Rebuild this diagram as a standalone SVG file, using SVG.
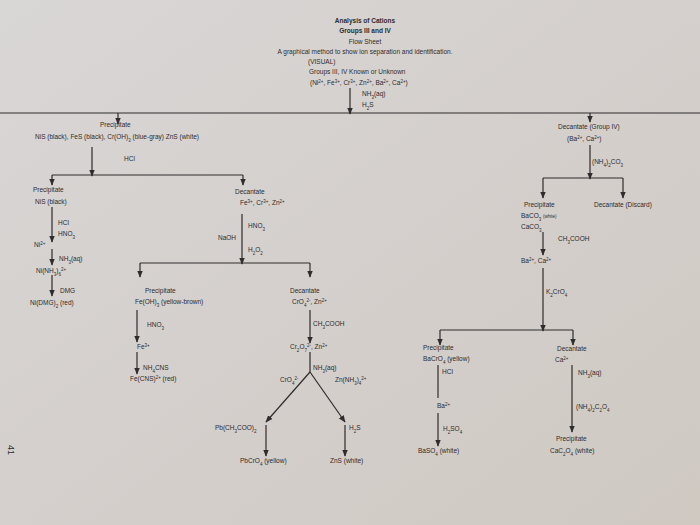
<svg xmlns="http://www.w3.org/2000/svg" width="700" height="525" viewBox="0 0 700 525">
<defs>
<style>
text{font-family:"Liberation Sans",Arial,sans-serif;font-size:6.5px;fill:#2e2c2c}
.b{font-weight:bold}
.sb{baseline-shift:sub;font-size:4.5px}
.sp{baseline-shift:super;font-size:4.5px}
.c{text-anchor:middle}
.l{stroke:#2e2c2c;stroke-width:1.2;fill:none}
.a{stroke:#2e2c2c;stroke-width:1.2;fill:none;marker-end:url(#ah)}
</style>
<marker id="ah" viewBox="0 0 10 10" refX="9" refY="5" markerWidth="6" markerHeight="6" orient="auto"><path d="M0,1 L10,5 L0,9 z" fill="#2e2c2c"/></marker>
<linearGradient id="bg" x1="0" y1="0" x2="1" y2="1"><stop offset="0" stop-color="#d9d6d6"/><stop offset="1" stop-color="#cfc9c2"/></linearGradient>
</defs>
<rect width="700" height="525" fill="url(#bg)"/>
<text x="8" y="445" transform="rotate(90 8 445)" style="font-size:9px">41</text>
<g id="connectors">
<line class="a" x1="350" y1="88" x2="350" y2="114"/>
<line class="l" x1="0" y1="113" x2="700" y2="113"/>
<line class="a" x1="118" y1="113" x2="118" y2="124"/>
<line class="a" x1="590" y1="113" x2="590" y2="122"/>
<line class="a" x1="92" y1="147" x2="92" y2="176"/>
<line class="l" x1="52" y1="175" x2="243" y2="175"/>
<line class="a" x1="52" y1="175" x2="52" y2="185"/>
<line class="a" x1="243" y1="175" x2="243" y2="185"/>
<line class="a" x1="52" y1="207" x2="52" y2="242"/>
<line class="a" x1="52" y1="249" x2="52" y2="265"/>
<line class="a" x1="52" y1="275" x2="52" y2="296"/>
<line class="a" x1="242" y1="214" x2="242" y2="264"/>
<line class="l" x1="140" y1="263" x2="310" y2="263"/>
<line class="a" x1="140" y1="263" x2="140" y2="277"/>
<line class="a" x1="310" y1="263" x2="310" y2="277"/>
<line class="a" x1="137" y1="310" x2="137" y2="342"/>
<line class="a" x1="137" y1="352" x2="137" y2="374"/>
<line class="a" x1="310" y1="310" x2="310" y2="343"/>
<line class="l" x1="310" y1="352" x2="310" y2="372"/>
<line class="a" x1="310" y1="372" x2="266" y2="422"/>
<line class="a" x1="310" y1="372" x2="345" y2="422"/>
<line class="a" x1="266" y1="425" x2="266" y2="456"/>
<line class="a" x1="345" y1="425" x2="345" y2="456"/>
<line class="a" x1="590" y1="145" x2="590" y2="179"/>
<line class="l" x1="543" y1="178" x2="623" y2="178"/>
<line class="a" x1="543" y1="178" x2="543" y2="198"/>
<line class="a" x1="623" y1="178" x2="623" y2="198"/>
<line class="a" x1="543" y1="232" x2="543" y2="255"/>
<line class="a" x1="543" y1="268" x2="543" y2="331"/>
<line class="l" x1="440" y1="330" x2="573" y2="330"/>
<line class="a" x1="440" y1="330" x2="440" y2="345"/>
<line class="a" x1="573" y1="330" x2="573" y2="345"/>
<line class="l" x1="438" y1="365" x2="438" y2="398"/>
<line class="a" x1="438" y1="413" x2="438" y2="446"/>
<line class="a" x1="572" y1="365" x2="572" y2="432"/>
</g>
<g id="title">
<text class="c b" x="365" y="23">Analysis of Cations</text>
<text class="c b" x="365" y="33">Groups III and IV</text>
<text class="c" x="365" y="44">Flow Sheet</text>
<text class="c" x="365" y="54">A graphical method to show ion separation and identification.</text>
<text x="308" y="64">(VISUAL)</text>
<text x="309" y="74">Groups III, IV Known or Unknown</text>
<text x="310" y="85">(Ni<tspan class="sp">2+</tspan>, Fe<tspan class="sp">3+</tspan>, Cr<tspan class="sp">3+</tspan>, Zn<tspan class="sp">2+</tspan>, Ba<tspan class="sp">2+</tspan>, Ca<tspan class="sp">2+</tspan>)</text>
<text x="362" y="96">NH<tspan class="sb">3</tspan>(aq)</text>
<text x="362" y="107">H<tspan class="sb">2</tspan>S</text>
</g>
<g id="ppt1">
<text x="100" y="127">Precipitate</text>
<text x="35" y="139">NiS (black), FeS (black), Cr(OH)<tspan class="sb">3</tspan> (blue-gray) ZnS (white)</text>
<text x="124" y="161">HCl</text>
</g>
<g id="nis">
<text x="33" y="192">Precipitate</text>
<text x="35" y="204">NiS (black)</text>
<text x="58" y="225">HCl</text>
<text x="58" y="236">HNO<tspan class="sb">3</tspan></text>
<text x="34" y="247">Ni<tspan class="sp">2+</tspan></text>
<text x="59" y="261">NH<tspan class="sb">3</tspan>(aq)</text>
<text x="36" y="273">Ni(NH<tspan class="sb">3</tspan>)<tspan class="sb">6</tspan><tspan class="sp">2+</tspan></text>
<text x="60" y="293">DMG</text>
<text x="30" y="305">Ni(DMG)<tspan class="sb">2</tspan> (red)</text>
</g>
<g id="dec1">
<text x="235" y="194">Decantate</text>
<text x="240" y="205">Fe<tspan class="sp">3+</tspan>, Cr<tspan class="sp">3+</tspan>, Zn<tspan class="sp">2+</tspan></text>
<text x="248" y="228">HNO<tspan class="sb">3</tspan></text>
<text x="218" y="240">NaOH</text>
<text x="248" y="252">H<tspan class="sb">2</tspan>O<tspan class="sb">2</tspan></text>
</g>
<g id="fe">
<text x="145" y="293">Precipitate</text>
<text x="135" y="304">Fe(OH)<tspan class="sb">3</tspan> (yellow-brown)</text>
<text x="147" y="327">HNO<tspan class="sb">3</tspan></text>
<text x="137" y="349">Fe<tspan class="sp">3+</tspan></text>
<text x="143" y="370">NH<tspan class="sb">4</tspan>CNS</text>
<text x="130" y="381">Fe(CNS)<tspan class="sp">2+</tspan> (red)</text>
</g>
<g id="crzn">
<text x="290" y="293">Decantate</text>
<text x="292" y="304">CrO<tspan class="sb">4</tspan><tspan class="sp">2-</tspan>, Zn<tspan class="sp">2+</tspan></text>
<text x="313" y="326">CH<tspan class="sb">3</tspan>COOH</text>
<text x="290" y="349">Cr<tspan class="sb">2</tspan>O<tspan class="sb">7</tspan><tspan class="sp">2-</tspan>, Zn<tspan class="sp">2+</tspan></text>
<text x="313" y="370">NH<tspan class="sb">3</tspan>(aq)</text>
<text x="280" y="382">CrO<tspan class="sb">4</tspan><tspan class="sp">2-</tspan></text>
<text x="335" y="382">Zn(NH<tspan class="sb">3</tspan>)<tspan class="sb">4</tspan><tspan class="sp">2+</tspan></text>
<text x="215" y="430">Pb(CH<tspan class="sb">3</tspan>COO)<tspan class="sb">2</tspan></text>
<text x="349" y="430">H<tspan class="sb">2</tspan>S</text>
<text x="240" y="463">PbCrO<tspan class="sb">4</tspan> (yellow)</text>
<text x="330" y="463">ZnS (white)</text>
</g>
<g id="group4">
<text x="558" y="129">Decantate (Group IV)</text>
<text x="567" y="141">(Ba<tspan class="sp">2+</tspan>, Ca<tspan class="sp">2+</tspan>)</text>
<text x="592" y="164">(NH<tspan class="sb">4</tspan>)<tspan class="sb">2</tspan>CO<tspan class="sb">3</tspan></text>
</g>
<g id="carb">
<text x="524" y="207">Precipitate</text>
<text x="594" y="207">Decantate (Discard)</text>
<text x="521" y="218">BaCO<tspan class="sb">3</tspan> <tspan style="font-size:4.5px">(white)</tspan></text>
<text x="521" y="229">CaCO<tspan class="sb">3</tspan></text>
<text x="558" y="241">CH<tspan class="sb">3</tspan>COOH</text>
<text x="521" y="263">Ba<tspan class="sp">2+</tspan>, Ca<tspan class="sp">2+</tspan></text>
<text x="546" y="294">K<tspan class="sb">2</tspan>CrO<tspan class="sb">4</tspan></text>
</g>
<g id="ba">
<text x="423" y="350">Precipitate</text>
<text x="423" y="361">BaCrO<tspan class="sb">4</tspan> (yellow)</text>
<text x="442" y="374">HCl</text>
<text x="437" y="408">Ba<tspan class="sp">2+</tspan></text>
<text x="443" y="431">H<tspan class="sb">2</tspan>SO<tspan class="sb">4</tspan></text>
<text x="418" y="453">BaSO<tspan class="sb">4</tspan> (white)</text>
</g>
<g id="ca">
<text x="557" y="351">Decantate</text>
<text x="555" y="362">Ca<tspan class="sp">2+</tspan></text>
<text x="578" y="375">NH<tspan class="sb">3</tspan>(aq)</text>
<text x="576" y="409">(NH<tspan class="sb">4</tspan>)<tspan class="sb">2</tspan>C<tspan class="sb">2</tspan>O<tspan class="sb">4</tspan></text>
<text x="556" y="441">Precipitate</text>
<text x="550" y="453">CaC<tspan class="sb">2</tspan>O<tspan class="sb">4</tspan> (white)</text>
</g>
</svg>
